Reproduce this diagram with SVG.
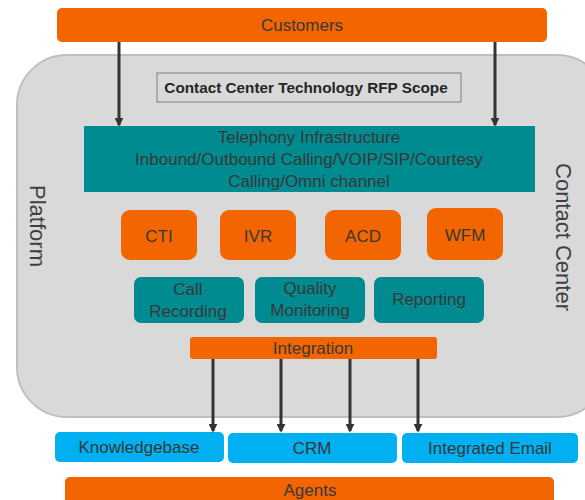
<svg xmlns="http://www.w3.org/2000/svg" width="585" height="500" viewBox="0 0 585 500">
<defs>
<style>
.orange{fill:#F26500;}
.teal{fill:#008B90;}
.blue{fill:#00B0F0;}
text{font-family:"Liberation Sans",Arial,sans-serif;fill:#383838;text-anchor:middle;dominant-baseline:central;}
.t15{font-size:17px;}
.lbl{font-size:22px;fill:#404040;}
.conn{stroke:#333333;stroke-width:3;fill:none;marker-end:url(#ah);}
</style>
<marker id="ah" viewBox="0 0 10 10" refX="8" refY="5" markerWidth="3" markerHeight="3" orient="auto" markerUnits="strokeWidth">
<path d="M0,0 L10,5 L0,10 z" fill="#333333"/>
</marker>
</defs>
<rect width="585" height="500" fill="#FFFFFF"/>
<g id="platform">
<rect x="17" y="55" width="590" height="362" rx="50" ry="50" fill="#D9D9D9" stroke="#BFBFBF" stroke-width="2"/>
<text class="lbl" transform="translate(37,226) rotate(90)">Platform</text>
<text class="lbl" transform="translate(563,237) rotate(90)">Contact Center</text>
</g>
<g id="customers">
<rect class="orange" x="57" y="8" width="490" height="34" rx="5"/>
<text class="t15" x="302" y="25">Customers</text>
</g>
<g id="title">
<rect x="157" y="73" width="304" height="29" fill="#D9D9D9" stroke="#7F7F7F" stroke-width="1"/>
<text x="306" y="87.5" style="font-size:15.3px;font-weight:bold;fill:#262626">Contact Center Technology RFP Scope</text>
</g>
<g id="telephony">
<rect class="teal" x="84" y="126" width="451" height="66"/>
<text class="t15" x="309" y="137">Telephony Infrastructure</text>
<text class="t15" x="309" y="159">Inbound/Outbound Calling/VOIP/SIP/Courtesy</text>
<text class="t15" x="309" y="181">Calling/Omni  channel</text>
</g>
<g id="cti">
<rect class="orange" x="121" y="210" width="76" height="50" rx="9"/>
<text class="t15" x="159" y="236">CTI</text>
</g>
<g id="ivr">
<rect class="orange" x="220" y="210" width="76" height="50" rx="9"/>
<text class="t15" x="258" y="236">IVR</text>
</g>
<g id="acd">
<rect class="orange" x="325" y="210" width="76" height="50" rx="9"/>
<text class="t15" x="363" y="236">ACD</text>
</g>
<g id="wfm">
<rect class="orange" x="427" y="208" width="76" height="52" rx="9"/>
<text class="t15" x="465" y="235">WFM</text>
</g>
<g id="call-recording">
<rect class="teal" x="134" y="277" width="110" height="46" rx="7"/>
<text class="t15" x="188" y="289">Call</text>
<text class="t15" x="188" y="311">Recording</text>
</g>
<g id="quality-monitoring">
<rect class="teal" x="255" y="277" width="110" height="46" rx="7"/>
<text class="t15" x="310" y="288">Quality</text>
<text class="t15" x="310" y="310">Monitoring</text>
</g>
<g id="reporting">
<rect class="teal" x="374" y="277" width="110" height="46" rx="7"/>
<text class="t15" x="429" y="299">Reporting</text>
</g>
<g id="integration">
<rect class="orange" x="190" y="337" width="247" height="22" rx="3"/>
<text class="t15" x="313" y="348">Integration</text>
</g>
<g id="knowledgebase">
<rect class="blue" x="55" y="432" width="169" height="30" rx="5"/>
<text class="t15" x="139" y="447">Knowledgebase</text>
</g>
<g id="crm">
<rect class="blue" x="228" y="433" width="169" height="30" rx="5"/>
<text class="t15" x="312" y="448">CRM</text>
</g>
<g id="integrated-email">
<rect class="blue" x="402" y="433" width="176" height="30" rx="5"/>
<text class="t15" x="490" y="448">Integrated Email</text>
</g>
<g id="agents">
<rect class="orange" x="65" y="477" width="489" height="34" rx="5"/>
<text class="t15" x="310" y="490">Agents</text>
</g>
<g id="connectors">
<line class="conn" x1="119" y1="42" x2="119" y2="125"/>
<line class="conn" x1="495" y1="42" x2="495" y2="125"/>
<line class="conn" x1="213" y1="359" x2="213" y2="431"/>
<line class="conn" x1="281" y1="359" x2="281" y2="431"/>
<line class="conn" x1="350" y1="359" x2="350" y2="431"/>
<line class="conn" x1="418" y1="359" x2="418" y2="431"/>
</g>
</svg>
